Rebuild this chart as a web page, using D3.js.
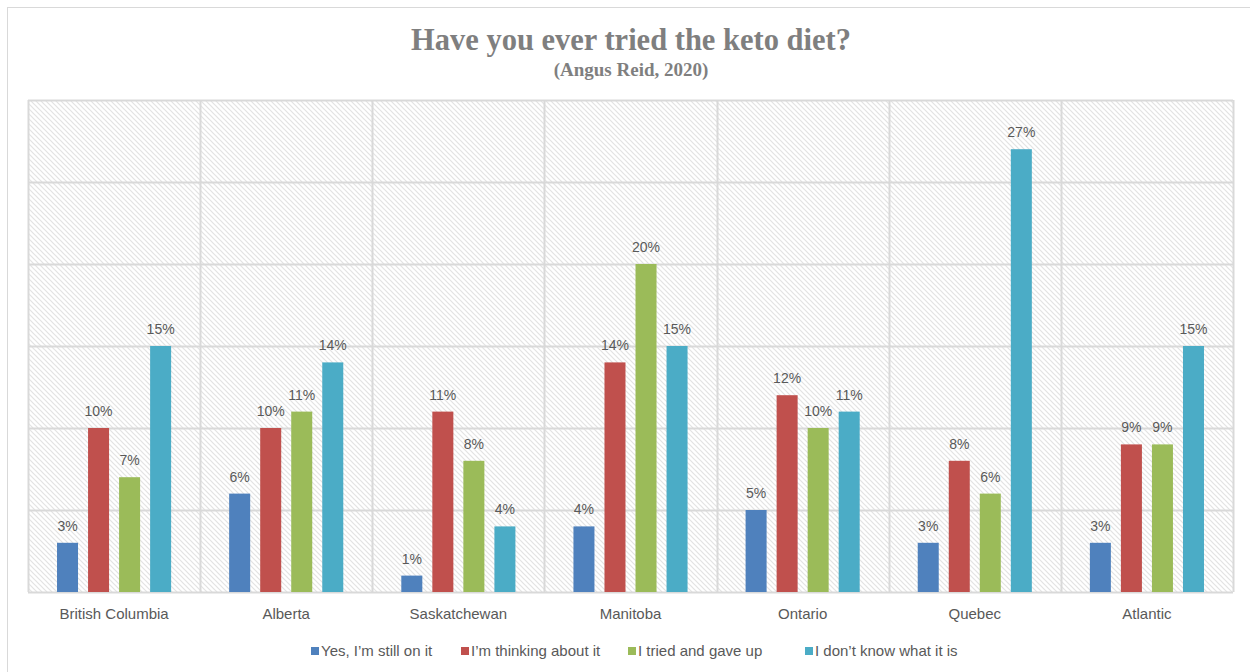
<!DOCTYPE html>
<html>
<head>
<meta charset="utf-8">
<script src="https://cdn.jsdelivr.net/npm/d3@7"></script>
<style>
  html, body { margin: 0; padding: 0; background: #fff; }
  svg { display: block; }
</style>
</head>
<body>
<svg id="chart" width="1250" height="672"></svg>
<script>
// Survey regions and response categories
const regions = ["British Columbia", "Alberta", "Saskatchewan", "Manitoba", "Ontario", "Quebec", "Atlantic"];
const seriesNames = ["Yes, I\u2019m still on it", "I\u2019m thinking about it", "I tried and gave up", "I don\u2019t know what it is"];
const seriesColors = ["#4f81bd", "#c0504d", "#9bbb59", "#4bacc6"];

// Percent of respondents per region, one array per response
const stillOnIt   = [3, 6, 1, 4, 5, 3, 3];
const thinking    = [10, 10, 11, 14, 12, 8, 9];
const gaveUp      = [7, 11, 8, 20, 10, 6, 9];
const dontKnow    = [15, 14, 4, 15, 11, 27, 15];
const seriesValues = [stillOnIt, thinking, gaveUp, dontKnow];

const yTicks = [0, 5, 10, 15, 20, 25, 30];

const svg = d3.select("#chart");
const W = 1250, H = 672;
const plot = { left: 28, right: 1233, top: 100, bottom: 592 };

// Outer chart frame
svg.append("rect")
  .attr("x", 7.5).attr("y", 7.5)
  .attr("width", W + 10).attr("height", H + 10)
  .attr("fill", "#fff").attr("stroke", "#d9d9d9").attr("stroke-width", 1);

// Diagonal hatch fill for the plot area
const defs = svg.append("defs");
const pat = defs.append("pattern")
  .attr("id", "hatch")
  .attr("patternUnits", "userSpaceOnUse")
  .attr("width", 5).attr("height", 5);
pat.append("rect").attr("width", 5).attr("height", 5).attr("fill", "#ffffff");
pat.append("path")
  .attr("d", "M-1,-1 L6,6 M-1,4 L1,6 M4,-1 L6,1")
  .attr("stroke", "#e3e3e3").attr("stroke-width", 1.2);

const x0 = d3.scaleBand().domain(regions).range([plot.left, plot.right]).padding(0);
const x1 = d3.scaleBand().domain(d3.range(seriesNames.length))
  .range([0, x0.bandwidth()]).paddingInner(0.323).paddingOuter(0.935);
const y = d3.scaleLinear().domain([0, 30]).range([plot.bottom, plot.top]);

svg.append("rect")
  .attr("x", plot.left).attr("y", plot.top)
  .attr("width", plot.right - plot.left).attr("height", plot.bottom - plot.top)
  .attr("fill", "url(#hatch)");

// Horizontal gridlines
svg.append("g").selectAll("line").data(yTicks).join("line")
  .attr("x1", plot.left).attr("x2", plot.right)
  .attr("y1", d => Math.round(y(d)) + 0.5).attr("y2", d => Math.round(y(d)) + 0.5)
  .attr("stroke", "#d9d9d9").attr("stroke-width", 2);

// Vertical category separators
const bounds = regions.map(r => x0(r)).concat([plot.right]);
svg.append("g").selectAll("line").data(bounds).join("line")
  .attr("x1", d => Math.round(d) + 0.5).attr("x2", d => Math.round(d) + 0.5)
  .attr("y1", plot.top).attr("y2", plot.bottom)
  .attr("stroke", "#d9d9d9").attr("stroke-width", 2);

// Bars and value labels
const groups = svg.append("g").selectAll("g").data(regions).join("g")
  .attr("transform", r => `translate(${x0(r)},0)`);

const cells = groups.selectAll("g").data((r, i) => seriesValues.map((s, k) => ({ k, v: s[i] })))
  .join("g");

cells.append("rect")
  .attr("x", d => x1(d.k)).attr("width", x1.bandwidth())
  .attr("y", d => y(d.v)).attr("height", d => y(0) - y(d.v))
  .attr("fill", d => seriesColors[d.k]);

cells.append("text")
  .attr("x", d => x1(d.k) + x1.bandwidth() / 2)
  .attr("y", d => y(d.v) - 12)
  .attr("text-anchor", "middle")
  .attr("font-family", "'Liberation Sans', Arial, sans-serif")
  .attr("font-size", 14)
  .attr("fill", "#595959")
  .text(d => d.v + "%");

// Category axis labels
svg.append("g").selectAll("text").data(regions).join("text")
  .attr("x", r => x0(r) + x0.bandwidth() / 2)
  .attr("y", 619)
  .attr("text-anchor", "middle")
  .attr("font-family", "'Liberation Sans', Arial, sans-serif")
  .attr("font-size", 15)
  .attr("fill", "#595959")
  .text(r => r);

// Title
svg.append("text")
  .attr("x", 631).attr("y", 50)
  .attr("text-anchor", "middle")
  .attr("font-family", "'Liberation Serif', serif")
  .attr("font-weight", "bold")
  .attr("font-size", 30.5)
  .attr("fill", "#7f7f7f")
  .text("Have you ever tried the keto diet?");

svg.append("text")
  .attr("x", 631).attr("y", 76)
  .attr("text-anchor", "middle")
  .attr("font-family", "'Liberation Serif', serif")
  .attr("font-weight", "bold")
  .attr("font-size", 19)
  .attr("fill", "#7f7f7f")
  .text("(Angus Reid, 2020)");

// Legend
const legendX = [311, 461, 628, 805];
const legend = svg.append("g").selectAll("g").data(seriesNames).join("g")
  .attr("transform", (d, i) => `translate(${legendX[i]},651)`);
legend.append("rect")
  .attr("x", 0).attr("y", -4).attr("width", 8).attr("height", 8)
  .attr("fill", (d, i) => seriesColors[i]);
legend.append("text")
  .attr("x", 10).attr("y", 5)
  .attr("font-family", "'Liberation Sans', Arial, sans-serif")
  .attr("font-size", 15)
  .attr("fill", "#595959")
  .text(d => d);
</script>
</body>
</html>
